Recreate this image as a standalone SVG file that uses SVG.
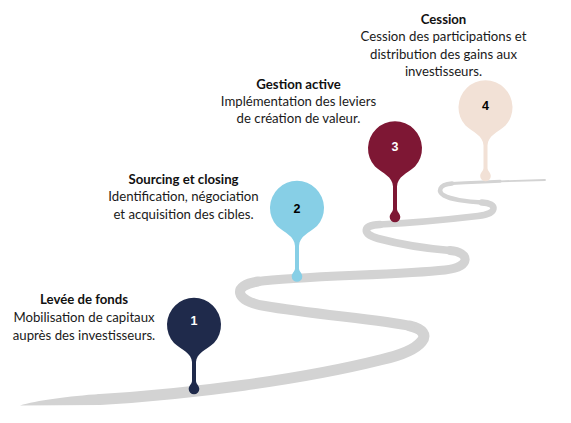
<svg xmlns="http://www.w3.org/2000/svg" xmlns:xlink="http://www.w3.org/1999/xlink" width="571" height="423" viewBox="0 0 571 423">
  <defs>
    <style>
      .road { fill: none; stroke: #d3d3d3; stroke-linecap: round; stroke-linejoin: round; }
      .roadfill { fill: #d3d3d3; }
      .title { font-family: "Lato", "Open Sans", sans-serif; font-size: 13.2px; font-weight: bold; fill: #111; text-anchor: middle; }
      .desc { font-family: "Lato", "Open Sans", sans-serif; font-size: 13.2px; fill: #1a1a1a; text-anchor: middle; }
      .num { font-family: "Liberation Sans", Arial, sans-serif; font-size: 12.5px; font-weight: bold; text-anchor: middle; }
      .p1 { fill: #1f2a4b; }
      .p2 { fill: #87cfe6; }
      .p3 { fill: #7e1734; }
      .p4 { fill: #f2e1d6; }
    </style>
    <path id="pinA" d="M -20,18 A 27 27 0 1 1 20,18 C 12,25 2.5,28 2,38 L 2,60.5 C 2,63.5 5.3,65 5.3,68.5 A 5.3 5.3 0 0 1 -5.3,68.5 C -5.3,65 -2,63.5 -2,60.5 L -2,38 C -2.5,28 -12,25 -20,18 Z"/>
    <path id="pinB" d="M -20,18 A 27 27 0 1 1 20,18 C 12,25 2.5,28 2,37 L 2,56 C 2,59 5.3,60.5 5.3,64 A 5.3 5.3 0 0 1 -5.3,64 C -5.3,60.5 -2,59 -2,56 L -2,37 C -2.5,28 -12,25 -20,18 Z"/>
  </defs>

  <g id="connectors">
    <g id="road">
      <path class="roadfill" d="M 20,405.5 C 35,400.5 70,396 100,394 L 100,405 Z"/>
      <path class="road" stroke-width="11" d="M 100,399.5 C 190,394 300,380 380,360 C 425,350 436,332 410,326"/>
      <path class="road" stroke-width="10" d="M 410,326 C 384,320 310,314 265,306 C 234,301 232,285 258,281.5"/>
      <path class="road" stroke-width="9" d="M 258,281.5 C 300,276 400,275 445,270 C 472,267 470,252 450,250.5"/>
      <path class="road" stroke-width="7.5" d="M 450,250.5 C 425,248.5 395,243 378,238.5 C 362,234 362,225 380,224.5"/>
      <path class="road" stroke-width="6.5" d="M 380,224.5 C 400,223.5 440,220.5 478,216 C 498,214 498,203 482,202.5"/>
      <path class="road" stroke-width="4.5" d="M 482,202.5 C 466,202 450,199 444,195.5 C 438,192 438,184.5 452,183.5"/>
      <path class="road" stroke-width="3" d="M 452,183.5 C 470,182.5 485,181.8 500,181.3"/>
      <path class="road" stroke-width="1.8" stroke-linecap="butt" d="M 500,181.3 C 515,180.8 530,180.3 545,180"/>
    </g>
  </g>

  <g id="step1">
    <use xlink:href="#pinB" href="#pinB" x="194" y="325" class="p1"/>
    <text class="num" x="194" y="324.6" fill="#ffffff">1</text>
    <text class="title" x="84" y="304">Levée de fonds</text>
    <text class="desc" x="84" y="322">Mobilisation de capitaux</text>
    <text class="desc" x="84" y="340">auprès des investisseurs.</text>
  </g>

  <g id="step2">
    <use xlink:href="#pinA" href="#pinA" x="297" y="208" class="p2"/>
    <text class="num" x="297" y="212.8" fill="#000000">2</text>
    <text class="title" x="183.5" y="183.5">Sourcing et closing</text>
    <text class="desc" x="183.5" y="201">Identification, négociation</text>
    <text class="desc" x="183.5" y="218.5">et acquisition des cibles.</text>
  </g>

  <g id="step3">
    <use xlink:href="#pinA" href="#pinA" x="395" y="148.5" class="p3"/>
    <text class="num" x="395" y="151.2" fill="#ffffff">3</text>
    <text class="title" x="298.5" y="88.5">Gestion active</text>
    <text class="desc" x="298.5" y="105.5">Implémentation des leviers</text>
    <text class="desc" x="298.5" y="122.5">de création de valeur.</text>
  </g>

  <g id="step4">
    <use xlink:href="#pinA" href="#pinA" x="485.5" y="107.5" class="p4"/>
    <text class="num" x="485.5" y="110.2" fill="#000000">4</text>
    <text class="title" x="443.5" y="23.5">Cession</text>
    <text class="desc" x="443.5" y="41">Cession des participations et</text>
    <text class="desc" x="443.5" y="58.5">distribution des gains aux</text>
    <text class="desc" x="443.5" y="76">investisseurs.</text>
  </g>
</svg>
